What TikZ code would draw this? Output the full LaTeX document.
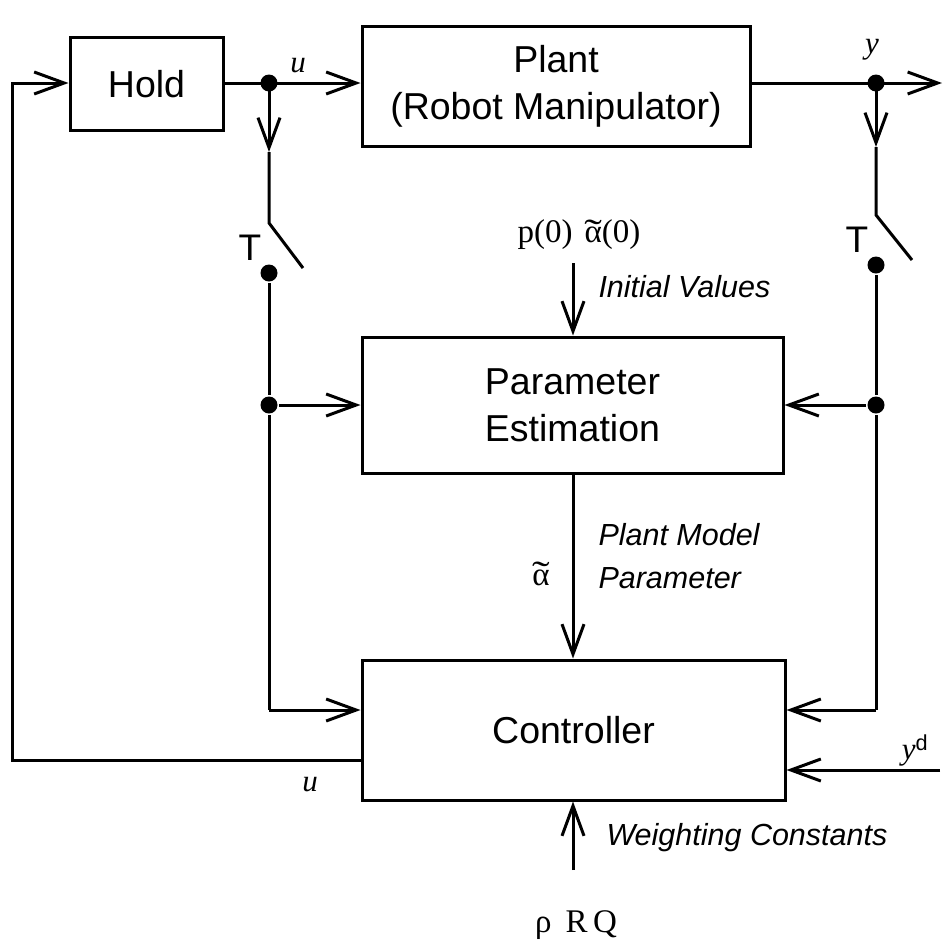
\documentclass[tikz,border=0pt]{standalone}
\usepackage{fontspec}
\setmainfont{Liberation Serif}
\setsansfont{Liberation Sans}
\usetikzlibrary{arrows.meta}
\newcommand\atil{\ooalign{α\cr\hidewidth\raisebox{-0.04em}{\scalebox{1.6}[1.1]{\char"02DC}}\hidewidth\cr}}
\begin{document}
\begin{tikzpicture}[x=1pt,y=-1pt,
  line width=3pt,
  blk/.style={draw, line width=3pt, inner sep=0pt, font=\sffamily\fontsize{37.5}{47}\selectfont, align=center},
  arr/.style={-{Straight Barb[length=30pt,width=22pt]}},
  dot/.style={circle, fill, inner sep=0pt, minimum size=17pt},
  lab/.style={font=\sffamily\itshape\fontsize{30.5}{43}\selectfont, inner sep=0pt, anchor=west},
  mlab/.style={font=\fontsize{31}{34}\selectfont\itshape, inner sep=0pt},
  slab/.style={font=\fontsize{33}{36}\selectfont, inner sep=0pt},
  tlab/.style={font=\sffamily\fontsize{37}{40}\selectfont, inner sep=0pt}
]
\useasboundingbox (0,0) rectangle (946,946);

% blocks
\node[blk, minimum width=153pt, minimum height=93pt] (hold) at (146.5,84) {Hold};
\node[blk, minimum width=388pt, minimum height=120pt] (plant) at (556,86) {Plant\\(Robot Manipulator)};
\node[blk, minimum width=421pt, minimum height=136pt] (pe) at (572.5,405) {Parameter\\Estimation};
\node[blk, minimum width=423pt, minimum height=140pt] (ctrl) at (573.5,730) {Controller};

% coordinates
\coordinate (ju) at (269,83);
\coordinate (jy) at (876,83);
\coordinate (out) at (942,83);
\coordinate (ua) at (269,152);
\coordinate (s1a) at (269,223);
\coordinate (s1b) at (303,268);
\coordinate (cl) at (269,710);
\coordinate (ya) at (876,147);
\coordinate (s2a) at (876,215);
\coordinate (s2b) at (912,260);
\coordinate (cr) at (876,710);
\coordinate (fb1) at (12,760);
\coordinate (yd) at (940,770);
\coordinate (iv) at (573,263);
\coordinate (wc) at (573,870);

\node[dot] (dju) at (ju) {};
\node[dot] (djy) at (jy) {};
\node[dot] (d1) at (269,273) {};
\node[dot] (jl) at (269,405) {};
\node[dot] (d2) at (876,265) {};
\node[dot] (jr) at (876,405) {};

% connectors
\draw (ju -| hold.east) -- (ju);
\draw[arr] (ju) -- (ju -| plant.west);
\draw (jy -| plant.east) -- (jy);
\draw[arr] (jy) -- (out);

\draw[arr] (ju) -- (ua);
\draw (ua) -- (s1a) -- (s1b);
\draw (d1) -- (jl) -- (cl);
\draw[arr] (cl) -- (cl -| ctrl.west);
\draw[arr] (jl) -- (jl -| pe.west);

\draw[arr] (jy) -- (ya);
\draw (ya) -- (s2a) -- (s2b);
\draw (d2) -- (jr) -- (cr);
\draw[arr] (cr) -- (cr -| ctrl.east);
\draw[arr] (jr) -- (jr -| pe.east);

\draw[arr] (ctrl.west |- fb1) -- (fb1) -- (fb1 |- ju) -- (ju -| hold.west);
\draw[arr] (yd) -- (yd -| ctrl.east);
\draw[arr] (iv) -- (iv |- pe.north);
\draw[arr] (pe.south -| iv) -- (ctrl.north -| iv);
\draw[arr] (wc) -- (wc |- ctrl.south);

% labels
\node[mlab] (lu) at (298,66) {u};
\node[mlab] (ly) at (872,50) {y};
\node[tlab] (t1) at (250,248) {T};
\node[tlab] (t2) at (857,240) {T};
\node[slab] (init) at (579,235) {p(0)\hspace{12pt}\atil(0)};
\node[lab] (ivl) at (597,287) {Initial Values};
\node[lab, align=left] (pml) at (597,556) {Plant Model\\Parameter};
\node[slab] (al) at (541,578) {\atil};
\node[mlab] (lu2) at (310,785) {u};
\node[mlab] (lyd) at (915,750) {y\textsuperscript{\upshape\sffamily d}};
\node[lab] (wcl) at (605,838) {Weighting Constants};
\node[slab] (rrq) at (576,925) {ρ\hspace{14pt}R\,Q};
\end{tikzpicture}
\end{document}
